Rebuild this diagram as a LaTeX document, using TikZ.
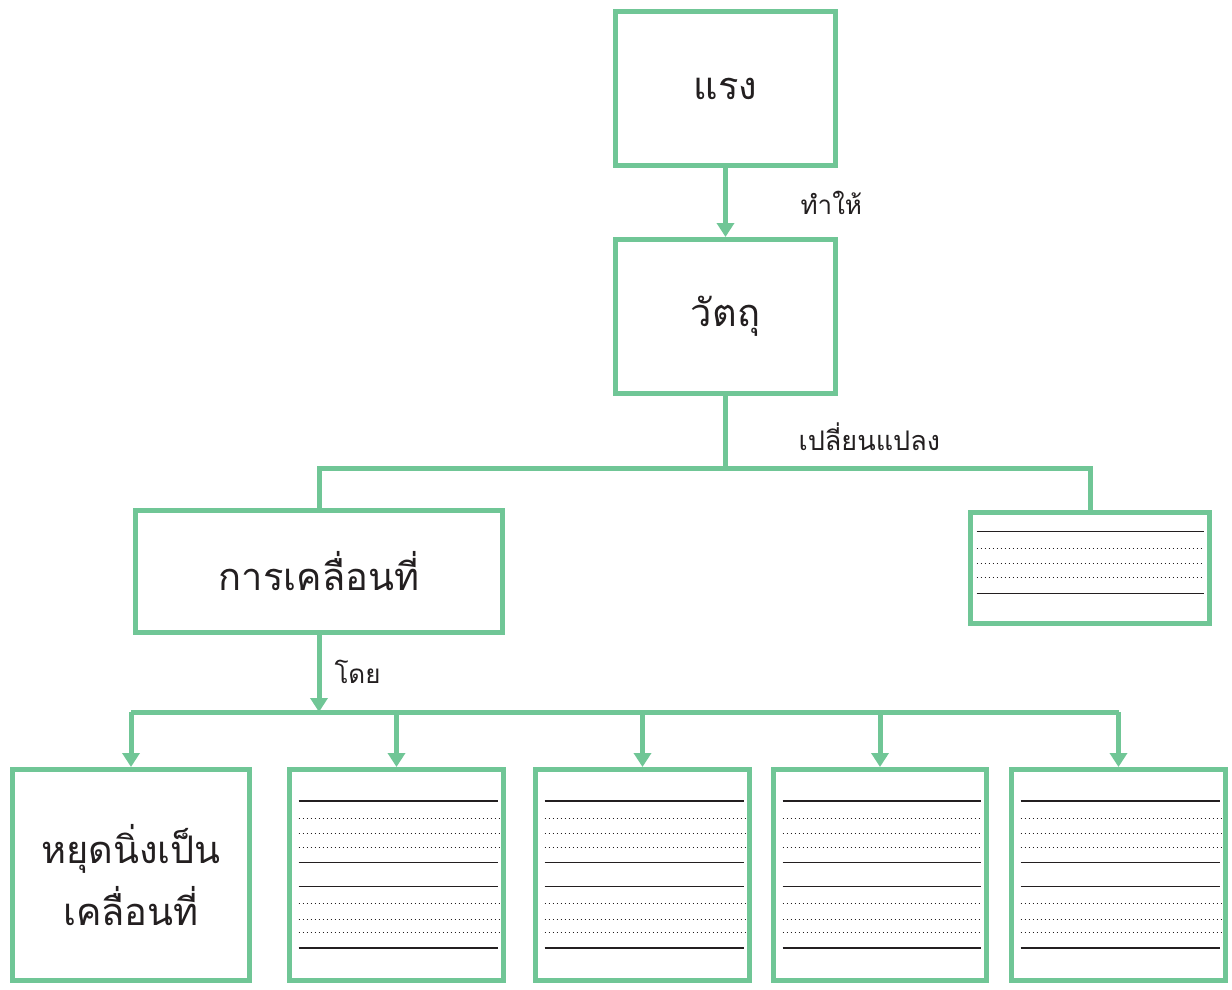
\documentclass[tikz,border=0pt]{standalone}
\usepackage{fontspec}
\newfontfamily\thaifont[Script=Thai]{Loma}
\usetikzlibrary{arrows.meta,calc}
\definecolor{boxgreen}{RGB}{112,198,150}
\definecolor{ink}{RGB}{35,31,32}

\tikzset{
  box/.style={draw=boxgreen, line width=5pt, inner sep=0pt, align=center,
    text=ink, font=\thaifont\fontsize{38}{62}\selectfont},
  link/.style={draw=boxgreen, line width=5pt},
  linkarrow/.style={link, -{Triangle[width=17pt,length=14pt]}},
  tag/.style={anchor=west, text=ink, font=\thaifont\fontsize{26}{30}\selectfont},
  rule/.style={draw=ink, line width=1.3pt},
  dotrule/.style={draw=ink, line width=1.4pt, dash pattern=on 1.2pt off 2.8pt}
}

\begin{document}
\begin{tikzpicture}[x=1pt, y=-1pt]
  \useasboundingbox (0,0) rectangle (1232,990);

  % top chain
  \node[box, minimum width=220, minimum height=154] (raeng) at (725.5,88.5) {แรง};
  \node[box, minimum width=220, minimum height=154] (watthu) at (725.5,316.5) {วัตถุ};
  \node[box, minimum width=367, minimum height=122] (motion) at (319,571.5) {การเคลื่อนที่};
  \node[box, minimum width=239, minimum height=111] (other) at (1090,568) {};

  % bottom row
  \node[box, minimum width=237, minimum height=211] (b1) at (131,875) {หยุดนิ่งเป็น\\เคลื่อนที่};
  \node[box, minimum width=214, minimum height=211] (b2) at (396.5,875) {};
  \node[box, minimum width=214, minimum height=211] (b3) at (642.5,875) {};
  \node[box, minimum width=213, minimum height=211] (b4) at (880,875) {};
  \node[box, minimum width=214, minimum height=211] (b5) at (1118.5,875) {};

  \coordinate (split) at (725.5,468);
  \coordinate (bar) at (319,712);

  \draw[linkarrow] (raeng.south) -- (watthu.north);
  \draw[link] (watthu.south) -- (split);
  \draw[link] (motion.north) |- (split) -| (other.north);
  \draw[linkarrow] (motion.south) -- (bar);
  \draw[link] (b1.north |- bar) -- (b5.north |- bar);
  \foreach \b in {b1,b2,b3,b4,b5}
    \draw[linkarrow] (\b.north |- bar) -- (\b.north);

  \node[tag] at (797,203) {ทำให้};
  \node[tag, font=\thaifont\fontsize{27}{30}\selectfont] at (795,437) {เปลี่ยนแปลง};
  \node[tag] at (331,672) {โดย};

  % writing lines
  \foreach \yy in {21.5,83.5}
    \draw[rule] ($(other.north west)+(8.5,\yy)$) -- ($(other.north east)+(-8.5,\yy)$);
  \foreach \yy in {38.5,53.5,67.5}
    \draw[dotrule] ($(other.north west)+(8.5,\yy)$) -- ($(other.north east)+(-8.5,\yy)$);
  \foreach \b in {b2,b3,b4,b5}{
    \foreach \yy in {34,95.5,119.5,181}
      \draw[rule] ($(\b.north west)+(11.5,\yy)$) -- ($(\b.north east)+(-8,\yy)$);
    \foreach \yy in {51.5,66.5,80.5,136.5,152.5,165.5}
      \draw[dotrule] ($(\b.north west)+(11.5,\yy)$) -- ($(\b.north east)+(-7,\yy)$);
  }
\end{tikzpicture}
\end{document}
